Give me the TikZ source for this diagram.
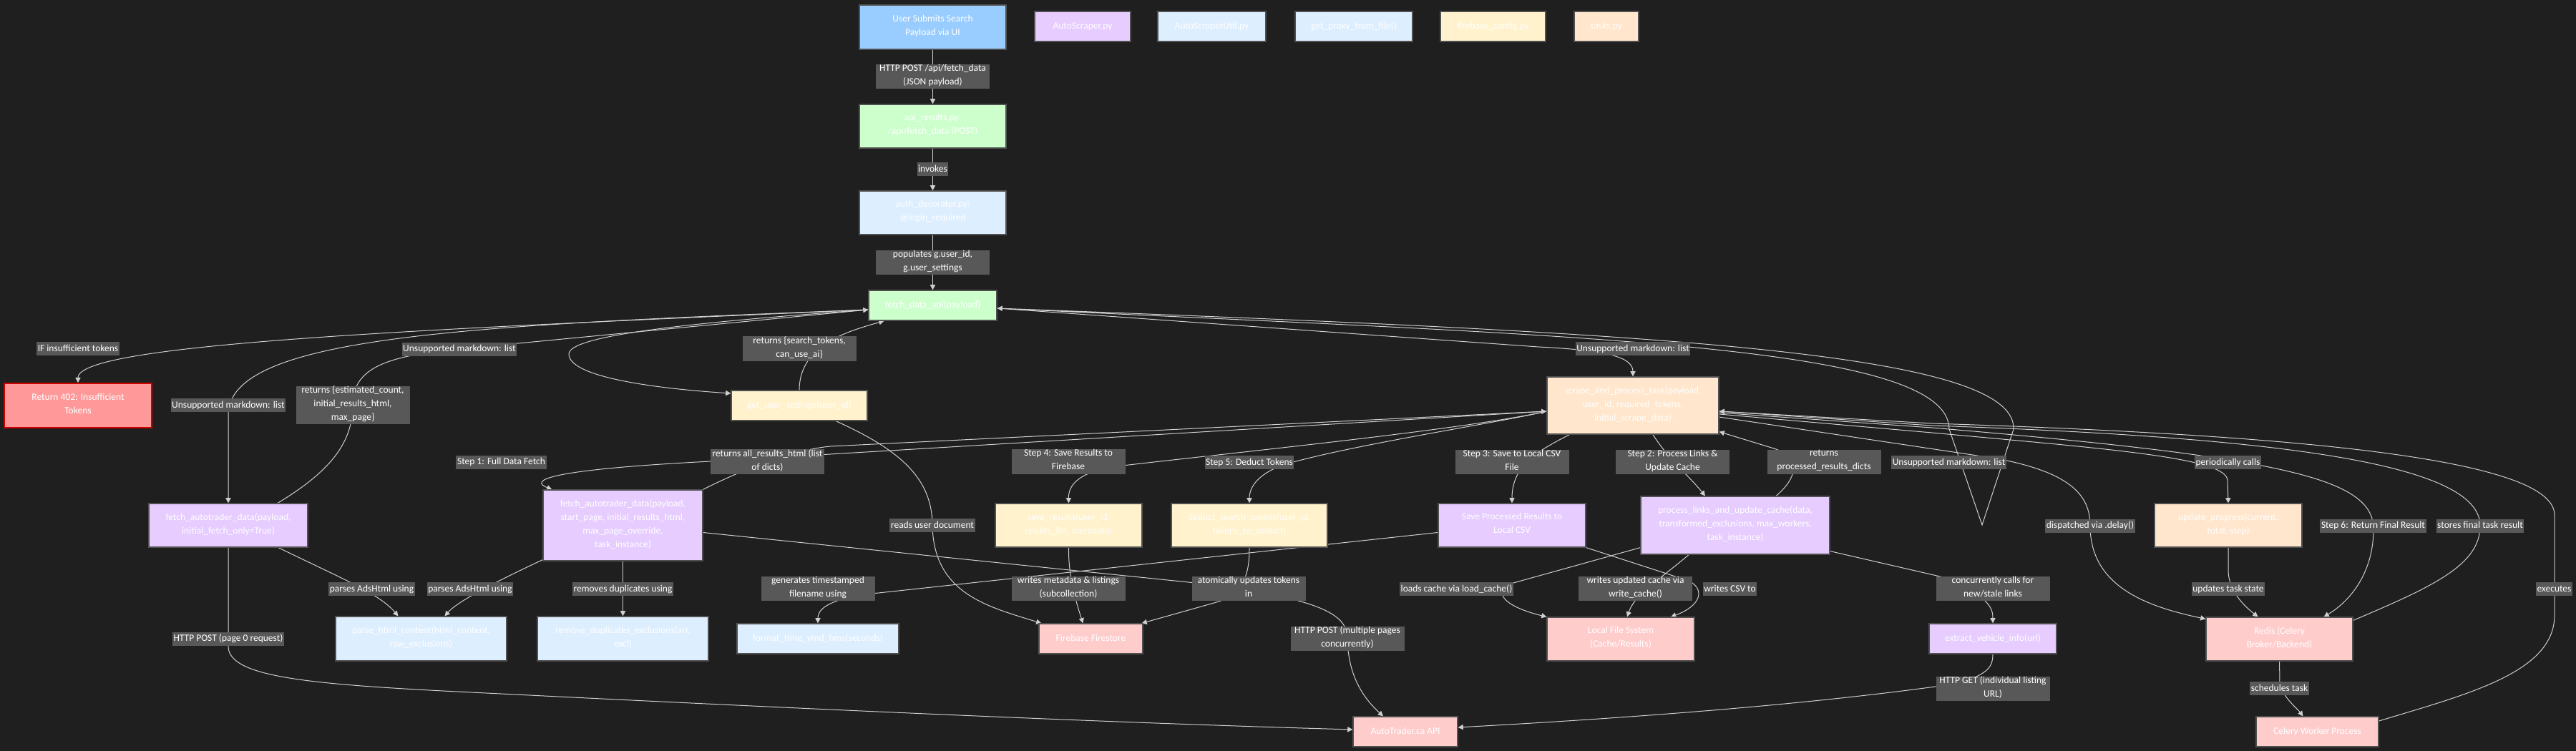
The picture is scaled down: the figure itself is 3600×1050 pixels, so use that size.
\documentclass[tikz,border=0pt]{standalone}
\usepackage{fontspec}
\setmainfont{Carlito}
\usetikzlibrary{arrows.meta,calc}
\definecolor{bgc}{HTML}{1F1F1F}
\definecolor{lbc}{HTML}{585858}
\definecolor{edc}{HTML}{CFCFCF}
\definecolor{ndb}{HTML}{505050}
\definecolor{cublue}{HTML}{99CCFF}
\definecolor{cgreen}{HTML}{CCFFCC}
\definecolor{clblue}{HTML}{DDEEFF}
\definecolor{cpurp}{HTML}{E6CCFF}
\definecolor{cyell}{HTML}{FFF2CC}
\definecolor{coran}{HTML}{FFE6CC}
\definecolor{cpink}{HTML}{FFCCCC}
\definecolor{cred}{HTML}{FF9999}
\definecolor{credb}{HTML}{CC0000}
\newcommand\dfont{\fontsize{6.75pt}{9.5pt}\selectfont}
\pgfdeclarelayer{bgl}
\pgfdeclarelayer{edl}
\pgfsetlayers{bgl,edl,main}
\tikzset{
  nd/.style={draw=ndb, line width=0.6pt, text=white, font=\dfont, align=center, inner sep=0pt,
    execute at begin node=\strut, execute at end node=\strut},
  lb/.style={fill=lbc, text=white, font=\dfont, align=center, inner xsep=0.8pt, inner ysep=0pt,
    execute at begin node=\strut, execute at end node=\strut},
  lbm/.style={lb, minimum width=79.5pt},
  conn/.style={draw=edc, line width=0.5pt},
  conna/.style={conn, -{Triangle[length=3.6pt,width=3.6pt]}},
}
\begin{document}
\begin{tikzpicture}[x=0.5pt,y=-0.5pt]
\begin{pgfonlayer}{bgl}
\fill[bgc] (0,0) rectangle (3600,1050);
\end{pgfonlayer}
\useasboundingbox (0,0) rectangle (3600,1050);

% ---------- nodes ----------
\node[nd, fill=cublue, draw=ndb, minimum width=102.5pt, minimum height=31pt] (user) at (1303.5,38) {User Submits Search\\Payload via UI};
\node[nd, fill=cpurp, minimum width=67pt, minimum height=21pt] (legAS) at (1513,37) {AutoScraper.py};
\node[nd, fill=clblue, minimum width=75.5pt, minimum height=21pt] (legASU) at (1693.5,37) {AutoScraperUtil.py};
\node[nd, fill=clblue, minimum width=82pt, minimum height=21pt] (legGP) at (1892,37) {get\_proxy\_from\_file()};
\node[nd, fill=cyell, minimum width=73.5pt, minimum height=21pt] (legFB) at (2086.5,37) {firebase\_config.py};
\node[nd, fill=coran, minimum width=45pt, minimum height=21pt] (legT) at (2245,37) {tasks.py};

\node[nd, fill=cgreen, minimum width=102.5pt, minimum height=30.5pt] (api) at (1303.5,176.5) {api\_results.py:\\/api/fetch\_data (POST)};
\node[nd, fill=clblue, minimum width=102.5pt, minimum height=30.5pt] (auth) at (1303.5,297.5) {auth\_decorator.py:\\@login\_required};
\node[nd, fill=cgreen, minimum width=89.5pt, minimum height=21pt] (D) at (1303.5,427) {fetch\_data\_api(payload)};
\node[nd, fill=cyell, minimum width=95pt, minimum height=21pt] (GUS) at (1117,567) {get\_user\_settings(user\_id)};
\node[nd, fill=cred, draw=credb, line width=0.9pt, minimum width=103pt, minimum height=31pt] (R402) at (109,567) {Return 402: Insufficient\\Tokens};
\node[nd, fill=cpurp, minimum width=111pt, minimum height=30.5pt] (FAI) at (319,734.5) {fetch\_autotrader\_data(payload,\\initial\_fetch\_only=True)};
\node[nd, fill=cpurp, minimum width=111.5pt, minimum height=49.5pt] (FAF) at (870.5,734.5) {fetch\_autotrader\_data(payload,\\start\_page, initial\_results\_html,\\max\_page\_override,\\task\_instance)};
\node[nd, fill=clblue, minimum width=119.5pt, minimum height=31pt] (parse) at (588.5,893) {parse\_html\_content(html\_content,\\raw\_exclusions)};
\node[nd, fill=clblue, minimum width=119.5pt, minimum height=31pt] (remdup) at (870.5,893) {remove\_duplicates\_exclusions(arr,\\excl)};
\node[nd, fill=clblue, minimum width=113pt, minimum height=21pt] (fmt) at (1143,893) {format\_time\_ymd\_hms(seconds)};
\node[nd, fill=cyell, minimum width=102.5pt, minimum height=30.5pt] (save) at (1493.5,734.5) {save\_results(user\_id,\\results\_list, metadata)};
\node[nd, fill=cyell, minimum width=109pt, minimum height=30.5pt] (deduct) at (1746,734.5) {deduct\_search\_tokens(user\_id,\\tokens\_to\_deduct)};
\node[nd, fill=cpink, minimum width=72.5pt, minimum height=21pt] (fire) at (1524.5,893) {Firebase Firestore};
\node[nd, fill=coran, minimum width=120pt, minimum height=40pt] (SAP) at (2282,567) {scrape\_and\_process\_task(payload,\\user\_id, required\_tokens,\\initial\_scrape\_data)};
\node[nd, fill=cpurp, minimum width=103pt, minimum height=30.5pt] (csv) at (2113,734.5) {Save Processed Results to\\Local CSV};
\node[nd, fill=cpurp, minimum width=132pt, minimum height=40.5pt] (PLC) at (2425,734.5) {process\_links\_and\_update\_cache(data,\\transformed\_exclusions, max\_workers,\\task\_instance)};
\node[nd, fill=cpink, minimum width=103pt, minimum height=30.5pt] (lfs) at (2265,893.5) {Local File System\\(Cache/Results)};
\node[nd, fill=cpurp, minimum width=89pt, minimum height=21pt] (ext) at (2785,893) {extract\_vehicle\_info(url)};
\node[nd, fill=cpink, minimum width=73pt, minimum height=21pt] (atapi) at (1964,1023) {AutoTrader.ca API};
\node[nd, fill=coran, minimum width=103pt, minimum height=30.5pt] (upd) at (3114,734.5) {update\_progress(current,\\total, step)};
\node[nd, fill=cpink, minimum width=102.5pt, minimum height=30.5pt] (redis) at (3185.5,893.5) {Redis (Celery\\Broker/Backend)};
\node[nd, fill=cpink, minimum width=85.5pt, minimum height=21pt] (celery) at (3238.5,1023) {Celery Worker Process};

% ---------- connectors ----------
\begin{pgfonlayer}{edl}
\coordinate (Dl) at ($(D.west)+(0,6)$);
\coordinate (Dr) at ($(D.east)+(0,4)$);
\coordinate (SAPw) at ($(SAP.west)+(0,8)$);
\coordinate (SAPin) at ($(SAP.east)+(0,8)$);
\coordinate (Vp) at (2770,734);

\draw[conna] (user) -- (api);
\draw[conna] (api) -- (auth);
\draw[conna] (auth) -- (D);

\draw[conna] (Dl) .. controls (600,460) and (109,480) .. (R402.north);
\draw[conna] (Dl) .. controls (650,455) and (319,470) .. (319,580) -- (FAI.north);
\draw[conna] ($(FAI.north)+(69,0)$) .. controls (460,660) and (493,620) .. (493,566) .. controls (493,515) and (540,500) .. (620,490) -- (Dl);
\draw[conna] (Dl) .. controls (950,452) and (795,470) .. (795,495) .. controls (795,525) and (900,542) .. ($(GUS.west)+(0,-17)$);
\draw[conna] (GUS.north) .. controls (1117,480) and (1190,462) .. ($(D.south)+(-68,0)$);
\draw[conna] ($(GUS.south)+(51,0)$) .. controls (1260,630) and (1303,670) .. (1303,735) .. controls (1305,830) and (1380,848) .. ($(fire.north west)+(4,0)$);

\draw[conna] (Dr) -- (2150,485) .. controls (2250,490) and (2282,500) .. (SAP.north);
\draw[conna] (Dr) .. controls (2200,470) and (2723,480) .. (2724,600) -- (Vp) -- (2814,600) .. controls (2818,490) and (2300,465) .. (Dr);

\draw[conna] ($(SAP.east)+(0,16)$) -- (2790,641) .. controls (2890,660) and (2921,690) .. (2921,735) .. controls (2921,820) and (3000,848) .. ($(redis.north west)+(0,3)$);
\draw[conna] ($(SAP.east)+(0,12)$) -- (2700,605) .. controls (2950,628) and (3113,640) .. (3113,672) -- (upd.north);
\draw[conna] ($(SAP.east)+(0,10)$) -- (2700,598) .. controls (3200,640) and (3317,670) .. (3317,740) .. controls (3317,800) and (3285,840) .. ($(redis.north)+(62,0)$);
\draw[conna] ($(redis.north east)+(0,5)$) .. controls (3400,820) and (3466,790) .. (3466,735) .. controls (3466,650) and (3200,612) .. (2700,595) -- (SAPin);
\draw[conna] ($(celery.east)+(0,-15)$) .. controls (3450,970) and (3570,940) .. (3570,860) -- (3570,720) .. controls (3570,640) and (3200,608) .. (2700,592) -- (SAPin);
\draw[conna] (upd.south) -- (3114,800) .. controls (3116,830) and (3140,850) .. ($(redis.north)+(-30,0)$);
\draw[conna] (redis.south) -- (3186,955) .. controls (3190,975) and (3210,990) .. ($(celery.north)+(-20,0)$);

\draw[conna] (SAPw) -- (993,645) .. controls (760,657) and (740,672) .. ($(FAF.north west)+(13,0)$);
\draw[conna] (FAF.north east) .. controls (1020,665) and (1100,630) .. (1160,624) -- (SAPw);
\draw[conna] (SAPw) .. controls (2050,600) and (1750,630) .. (1560,652) .. controls (1505,660) and (1493,680) .. (save.north);
\draw[conna] (SAPw) .. controls (2100,590) and (1900,620) .. (1800,648) .. controls (1760,660) and (1746,680) .. (deduct.north);
\draw[conna] ($(SAP.south west)+(32,0)$) .. controls (2150,630) and (2113,650) .. (csv.north);
\draw[conna] ($(SAP.south)+(28,0)$) .. controls (2330,640) and (2360,665) .. ($(PLC.north)+(-42,0)$);
\draw[conna] ($(PLC.north)+(57,0)$) .. controls (2510,670) and (2520,640) .. (2479,627) -- ($(SAP.south east)+(0,-4)$);

\draw[conna] ($(csv.west)+(0,10)$) -- (1200,832) .. controls (1150,842) and (1143,855) .. (fmt.north);
\draw[conna] ($(FAF.east)+(0,10)$) -- (1700,818) .. controls (1850,840) and (1883,860) .. (1883,893) .. controls (1884,950) and (1910,980) .. ($(atapi.north)+(-31,0)$);
\draw[conna] (deduct.south) .. controls (1746,800) and (1740,830) .. (1700,842) -- ($(fire.north east)+(-2,0)$);
\draw[conna] (save.south) .. controls (1493,800) and (1500,830) .. ($(fire.north)+(-11,0)$);
\draw[conna] ($(FAI.south)+(70,0)$) .. controls (480,810) and (530,830) .. ($(parse.north)+(-32,0)$);
\draw[conna] ($(FAF.south west)+(0,-2)$) .. controls (700,810) and (640,840) .. ($(parse.north)+(33,0)$);
\draw[conna] (FAF) -- (remdup);
\draw[conna] (FAI.south) -- (319,905) .. controls (322,950) and (450,958) .. (700,970) .. controls (1200,995) and (1600,1012) .. ($(atapi.west)+(0,-3)$);
\draw[conna] (csv.south east) -- (2360,812) .. controls (2385,825) and (2375,848) .. ($(lfs.north)+(70,0)$);
\draw[conna] ($(PLC.south west)+(0,-10)$) -- (2115,815) .. controls (2080,830) and (2110,850) .. (lfs.north west);
\draw[conna] ($(PLC.south)+(-65,0)$) .. controls (2320,810) and (2285,830) .. ($(lfs.north)+(9,0)$);
\draw[conna] ($(PLC.south east)+(0,-5)$) -- (2720,808) .. controls (2780,835) and (2785,850) .. (ext.north);
\draw[conna] (ext.south) .. controls (2785,935) and (2775,942) .. (2740,955) .. controls (2500,990) and (2200,1008) .. ($(atapi.east)+(0,-6)$);
\end{pgfonlayer}

% ---------- edge labels ----------
\node[lbm] (l1) at (1303.5,107) {HTTP POST /api/fetch\_data\\(JSON payload)};
\node[lb] (l2) at (1303.5,236.5) {invokes};
\node[lbm] (l3) at (1303.5,367) {populates g.user\_id,\\g.user\_settings};
\node[lb] (l4) at (109,487.5) {IF insufficient tokens};
\node[lb] (l5) at (642,488) {Unsupported markdown: list};
\node[lb] (l6) at (319,566.5) {Unsupported markdown: list};
\node[lbm] (l7) at (493,566.5) {returns \{estimated\_count,\\initial\_results\_html,\\max\_page\}};
\node[lbm] (l8) at (1117,487.5) {returns \{search\_tokens,\\can\_use\_ai\}};
\node[lb] (l9) at (700.5,646) {Step 1: Full Data Fetch};
\node[lbm] (l10) at (1072.5,645.5) {returns all\_results\_html (list\\of dicts)};
\node[lbm] (l11) at (1493,645.5) {Step 4: Save Results to\\Firebase};
\node[lb] (l12) at (1746,646.5) {Step 5: Deduct Tokens};
\node[lbm] (l13) at (2113,646) {Step 3: Save to Local CSV\\File};
\node[lbm] (l14) at (2337.5,646) {Step 2: Process Links \&\\Update Cache};
\node[lbm] (l15) at (2549,646) {returns\\processed\_results\_dicts};
\node[lb] (l16) at (2282,487.5) {Unsupported markdown: list};
\node[lb] (l17) at (2723.5,646.5) {Unsupported markdown: list};
\node[lb] (l18) at (3113.5,646.5) {periodically calls};
\node[lb] (l19) at (519.5,823.5) {parses AdsHtml using};
\node[lb] (l20) at (657,823.5) {parses AdsHtml using};
\node[lb] (l21) at (870.5,823.5) {removes duplicates using};
\node[lbm] (l22) at (1143,823) {generates timestamped\\filename using};
\node[lb] (l23) at (1303,734.5) {reads user document};
\node[lbm] (l24) at (1493,823) {writes metadata \& listings\\(subcollection)};
\node[lbm] (l25) at (1745,823) {atomically updates tokens\\in};
\node[lb] (l26) at (319,893) {HTTP POST (page 0 request)};
\node[lbm] (l27) at (1883,893) {HTTP POST (multiple pages\\concurrently)};
\node[lb] (l28) at (2035.5,823.5) {loads cache via load\_cache()};
\node[lbm] (l29) at (2285.5,823) {writes updated cache via\\write\_cache()};
\node[lb] (l30) at (2417.5,823.5) {writes CSV to};
\node[lbm] (l31) at (2785,823) {concurrently calls for\\new/stale links};
\node[lbm] (l32) at (2785,963) {HTTP GET (individual listing\\URL)};
\node[lb] (l33) at (2921,735) {dispatched via .delay()};
\node[lb] (l34) at (3316.5,735) {Step 6: Return Final Result};
\node[lb] (l35) at (3466,735) {stores final task result};
\node[lb] (l36) at (3114,823.5) {updates task state};
\node[lb] (l37) at (3185.5,962.5) {schedules task};
\node[lb] (l38) at (3569.5,823.5) {executes};
\end{tikzpicture}
\end{document}
